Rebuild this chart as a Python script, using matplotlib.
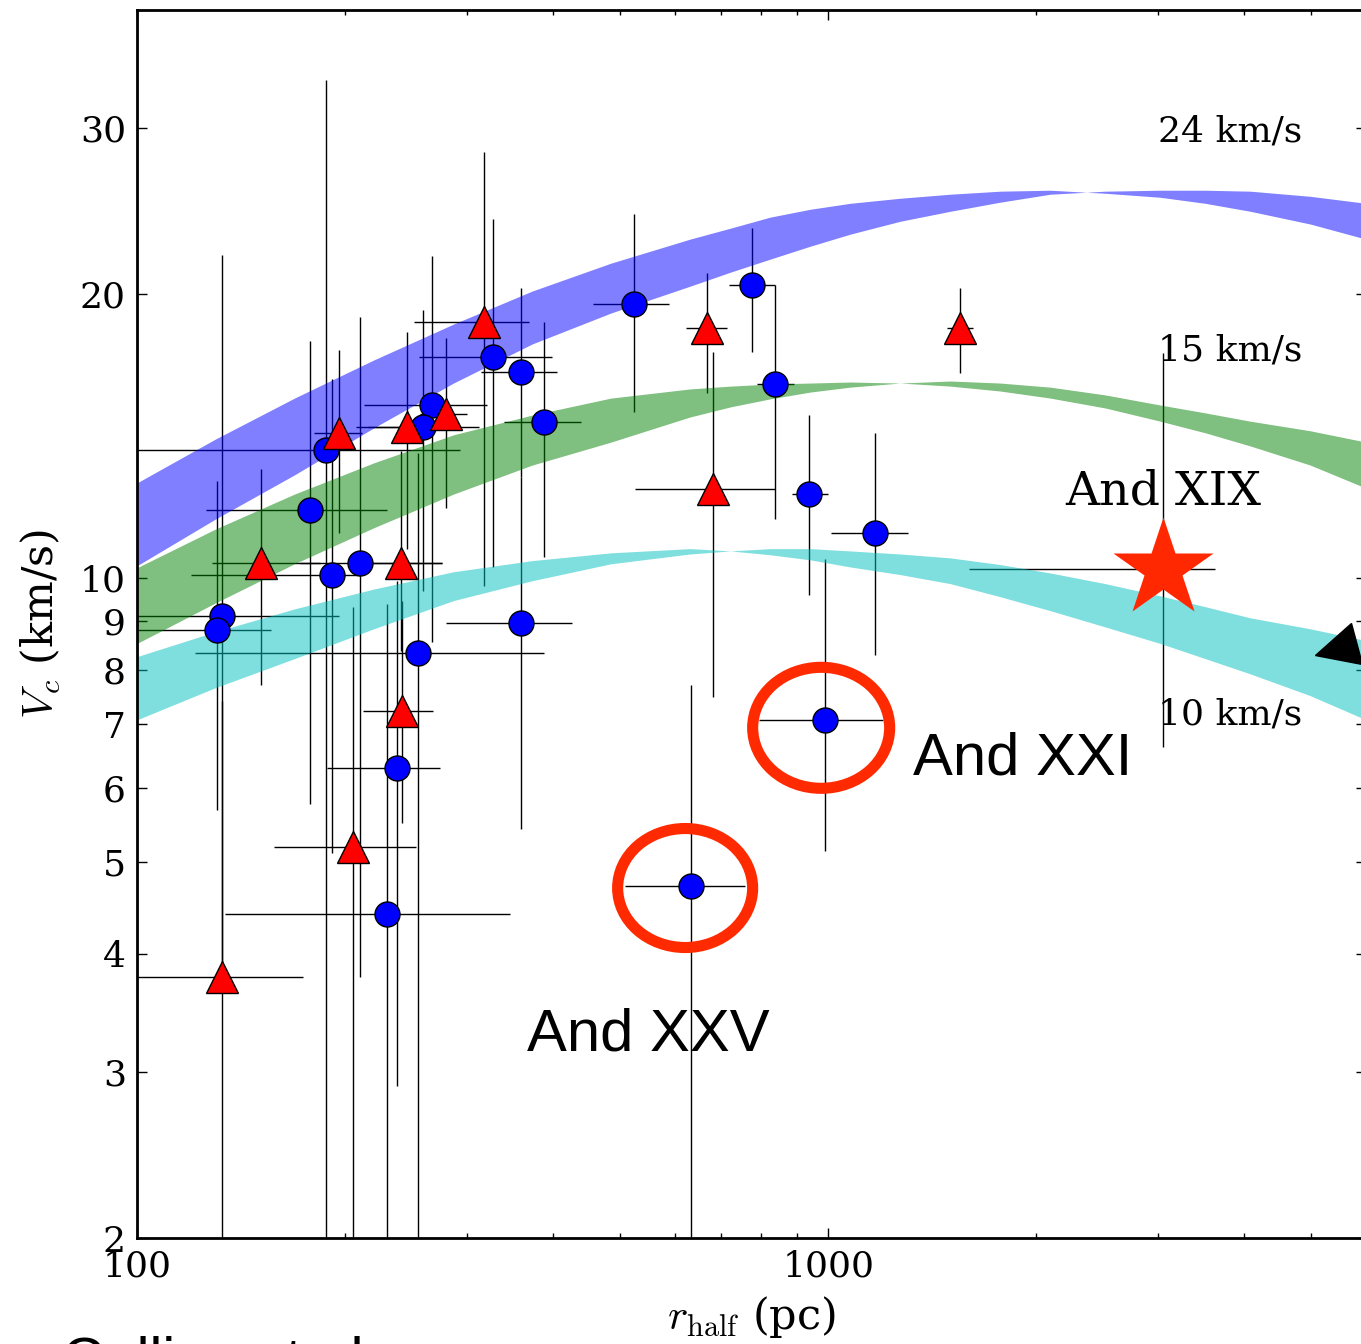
import numpy as np
import matplotlib
matplotlib.use('Agg')
import matplotlib.pyplot as plt
from matplotlib.patches import Ellipse
from matplotlib.markers import MarkerStyle
from matplotlib.transforms import Affine2D, ScaledTranslation
from matplotlib.ticker import FixedLocator, FixedFormatter, NullLocator, LogLocator, NullFormatter

################################################################################
# data (r_half in pc, V_c in km/s)

# blue circles: x, y and the ends of their error bars
bx    = [132.6, 130.7, 177.7, 188.0, 191.6, 209.9, 266.8, 259.4, 326.9, 359.5, 359.5,
         388.2, 254.8, 237.6, 229.8, 524.0, 776.2, 837.2, 938.7, 1169.5, 988.4, 633.5]
by    = [9.13, 8.81, 11.80, 13.69, 10.09, 10.39, 15.26, 14.47, 17.16, 16.54, 8.97,
         14.64, 8.34, 6.30, 4.41, 19.52, 20.44, 16.06, 12.29, 11.17, 7.08, 4.72]
bx_lo = [90, 90, 125.9, 90, 119.7, 172.2, 213.1, 207.5, 255.9, 314.6, 279.6,
         339.7, 121.5, 188.4, 134.1, 457.0, 719.0, 789.3, 886.8, 1010, 794.5, 508.5]
bx_hi = [196.1, 156.3, 230.0, 293.4, 210.1, 276.3, 321.0, 312.6, 398.2, 405.3, 426.1,
         439.1, 388.2, 274.5, 346.6, 588.8, 837.2, 892.7, 1000, 1305, 1201, 758.3]
by_lo = [3.78, 5.68, 5.77, 1.5, 5.11, 3.78, 8.57, 9.70, 10.29, 12.81, 5.42,
         10.54, 1.5, 2.90, 1.5, 15.01, 17.37, 11.56, 9.61, 8.30, 5.14, 1.5]
by_hi = [21.99, 12.68, 17.84, 33.68, 16.26, 18.91, 21.94, 19.24, 24.01, 20.32, 12.8,
         18.69, 13.58, 9.94, 9.40, 24.30, 23.49, 20.44, 14.90, 14.26, 10.49, 7.70]

# red triangles
rx    = [132.7, 151.1, 195.8, 245.7, 279.6, 317.8, 241.0, 241.8, 205.7, 667.5, 681.6, 1549]
ry    = [3.78, 10.39, 14.26, 14.47, 14.93, 18.69, 10.39, 7.24, 5.19, 18.41, 12.44, 18.41]
rx_lo = [90, 128.4, 180.4, 215.9, 256.8, 251.7, 203.4, 212.4, 157.9, 622.4, 525.7, 1485]
rx_hi = [173.9, 184.1, 211.7, 274.5, 300.3, 369.2, 276.3, 268.2, 253.4, 713.5, 837.2, 1619]
ry_lo = [1.5, 7.70, 11.17, 10.75, 11.88, 9.82, 8.38, 5.50, 1.5, 15.73, 7.49, 16.50]
ry_hi = [7.42, 13.06, 17.45, 18.24, 17.99, 28.27, 13.64, 9.47, 9.33, 21.07, 17.37, 20.31]

# And XIX
sx, sy = [3048], [10.24]
sx_lo, sx_hi = [1600], [3631]
sy_lo, sy_hi = [6.62], [17.33]

# black marker cut by the right edge
kx, ky = [5435], [8.42]

# halo bands, two rotation curves each
band_r = [100, 130, 169, 220, 287, 373, 485, 631, 722, 824, 942,
          1076, 1271, 1502, 1774, 2096, 2517, 3023, 3512, 4080, 4983, 6000]
v24_a = [12.62, 14.05, 15.52, 17.03, 18.59, 20.15, 21.57, 22.87, 23.49, 24.13, 24.60,
         24.96, 25.27, 25.52, 25.71, 25.77, 25.58, 25.33, 24.96, 24.48, 23.73, 22.87]
v24_b = [10.31, 11.56, 12.87, 14.43, 16.10, 17.71, 19.10, 20.39, 21.10, 21.78, 22.48,
         23.15, 23.89, 24.48, 25.03, 25.52, 25.71, 25.77, 25.77, 25.71, 25.39, 24.96]
v15_a = [10.26, 11.28, 12.28, 13.25, 14.19, 14.89, 15.52, 15.87, 15.98, 16.06, 16.10,
         16.14, 16.10, 15.98, 15.79, 15.52, 15.15, 14.67, 14.26, 13.81, 13.18, 12.46]
v15_b = [8.53, 9.42, 10.36, 11.31, 12.28, 13.18, 13.94, 14.82, 15.19, 15.49, 15.75,
         15.94, 16.10, 16.18, 16.10, 15.94, 15.64, 15.26, 14.97, 14.67, 14.33, 13.94]
v10_a = [8.26, 8.78, 9.28, 9.74, 10.16, 10.44, 10.64, 10.75, 10.69, 10.59, 10.46,
         10.28, 10.09, 9.87, 9.56, 9.24, 8.88, 8.53, 8.22, 7.92, 7.51, 7.08]
v10_b = [7.08, 7.66, 8.22, 8.84, 9.47, 9.94, 10.36, 10.61, 10.69, 10.75, 10.75,
         10.69, 10.61, 10.51, 10.34, 10.13, 9.87, 9.58, 9.33, 9.08, 8.84, 8.59]

yticks = [2, 3, 4, 5, 6, 7, 8, 9, 10, 20, 30]

################################################################################

rc_fonts = {
    'font.family': 'serif',
    'font.serif': ['DejaVu Serif'],
    'mathtext.fontset': 'cm',
    'font.size': 26,
    'xtick.direction': 'in', 'ytick.direction': 'in',
    'xtick.top': True, 'ytick.right': True,
    'xtick.major.size': 7, 'xtick.minor.size': 3.5, 'ytick.major.size': 7,
    'xtick.major.width': 1, 'xtick.minor.width': 1, 'ytick.major.width': 1,
    'xtick.major.pad': 8, 'ytick.major.pad': 8,
    'axes.linewidth': 2,
}
plt.rcParams.update(rc_fonts)

fig = plt.figure(figsize=(13.61, 13.44), dpi=100)
ax = fig.add_axes([137/1361, 106/1344, 1229/1361, 1228/1344])
ax.set_xscale('log')
ax.set_yscale('log')


def err(x, lo, hi):
    x, lo, hi = np.array(x), np.array(lo), np.array(hi)
    return [x - lo, hi - x]


ax.errorbar(bx, by, xerr=err(bx, bx_lo, bx_hi), yerr=err(by, by_lo, by_hi),
            fmt='none', ecolor='k', elinewidth=1, capsize=0, zorder=1)
ax.errorbar(rx, ry, xerr=err(rx, rx_lo, rx_hi), yerr=err(ry, ry_lo, ry_hi),
            fmt='none', ecolor='k', elinewidth=1, capsize=0, zorder=1)
ax.errorbar(sx, sy, xerr=err(sx, sx_lo, sx_hi), yerr=err(sy, sy_lo, sy_hi),
            fmt='none', ecolor='k', elinewidth=1, capsize=0, zorder=1)

ax.fill_between(band_r, v24_a, v24_b, color='b', alpha=0.5, lw=0, zorder=2)
ax.fill_between(band_r, v15_a, v15_b, color='g', alpha=0.5, lw=0, zorder=2)
ax.fill_between(band_r, v10_a, v10_b, color='c', alpha=0.5, lw=0, zorder=2)

ax.plot(bx, by, 'o', color='b', mec='k', mew=1, ms=18, zorder=3)
ax.plot(rx, ry, '^', color='r', mec='k', mew=1, ms=23, zorder=3)
ax.plot(sx, sy, '*', color='#ff2800', mec='none', ms=75, zorder=4)
tri = MarkerStyle('<', transform=Affine2D().rotate_deg(15))
ax.plot(kx, ky, marker=tri, color='k', ms=31, ls='none', zorder=4, clip_on=False)

ax.text(3000, 29.0, '24 km/s', fontsize=26)
ax.text(3000, 17.0, '15 km/s', fontsize=26)
ax.text(3000, 7.0, '10 km/s', fontsize=26)
ax.text(2203, 11.98, 'And XIX', fontsize=34)
ax.text(1327, 6.2, 'And XXI', fontsize=43, family='Liberation Sans', zorder=5)
ax.text(366.7, 3.16, 'And XXV', fontsize=43, family='Liberation Sans', zorder=5)


def ring(x, y, dx, dy, w, h):
    tr = fig.dpi_scale_trans + ScaledTranslation(x, y, ax.transData)
    e = Ellipse((dx, dy), w, h, transform=tr, fill=False, ec='#ff2a00', lw=8, zorder=5)
    ax.add_artist(e)


ring(bx[20], by[20], -0.035, -0.08, 1.37, 1.21)
ring(bx[21], by[21], -0.06, -0.02, 1.35, 1.19)

fig.text(62/1361, -34/1344, 'Collins et al.', fontsize=42, family='Liberation Sans')

ax.set_xlim(100, 6000)
ax.set_ylim(2, 40)
ax.xaxis.set_major_locator(FixedLocator([100, 1000]))
ax.xaxis.set_major_formatter(FixedFormatter(['100', '1000']))
ax.xaxis.set_minor_locator(LogLocator(base=10, subs=np.arange(2, 10)))
ax.xaxis.set_minor_formatter(NullFormatter())
ax.yaxis.set_major_locator(FixedLocator(yticks))
ax.yaxis.set_major_formatter(FixedFormatter([str(t) for t in yticks]))
ax.yaxis.set_minor_locator(NullLocator())

ax.set_xlabel(r'$r_{\rm half}$ (pc)', fontsize=31, labelpad=8)
ax.set_ylabel(r'$V_c$ (km/s)', fontsize=31, labelpad=12)

fig.savefig('out.png', dpi=100)
